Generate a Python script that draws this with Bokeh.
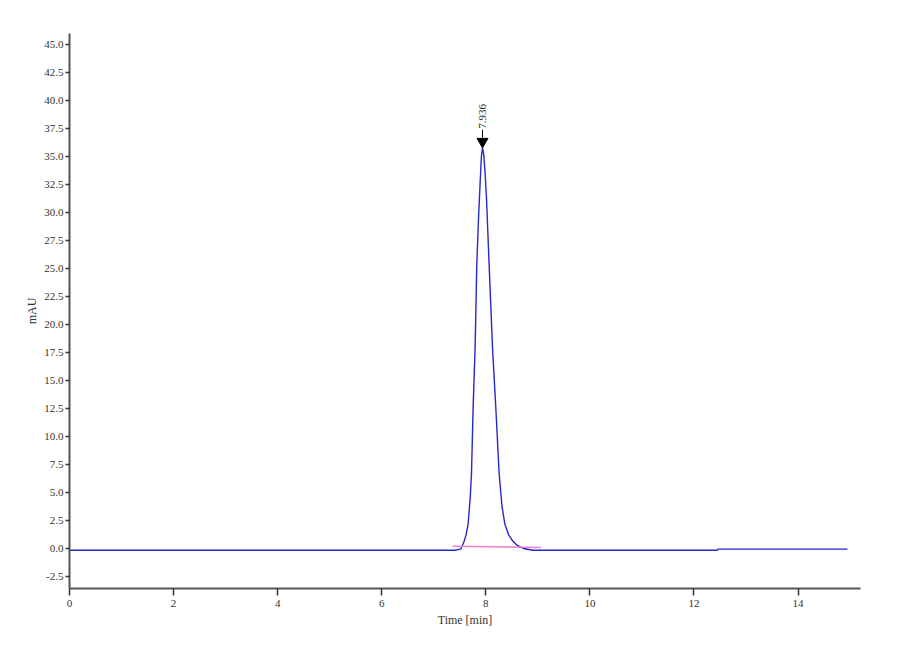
import numpy as np
from bokeh.plotting import figure
from bokeh.models import FixedTicker, PrintfTickFormatter, ColumnDataSource
from bokeh.core.properties import value
from bokeh.embed import file_html
from bokeh.resources import INLINE

# Chromatogram trace (time in min, signal in mAU)
time_min = [0.0, 7.40, 7.52, 7.58, 7.62, 7.66, 7.70, 7.725, 7.756, 7.794, 7.827,
            7.86, 7.89, 7.915, 7.936, 7.96, 7.985, 8.013, 8.063, 8.129, 8.192,
            8.256, 8.31, 8.365, 8.44, 8.513, 8.60, 8.73, 8.90, 12.45, 12.46, 14.95]
signal_mau = [-0.15, -0.15, -0.05, 0.6, 1.2, 2.2, 4.5, 6.7, 12.6, 17.9, 25.4,
              29.5, 32.6, 35.0, 35.8, 35.2, 33.6, 31.3, 25.4, 17.9, 12.6,
              6.7, 3.8, 2.2, 1.2, 0.7, 0.3, 0.0, -0.15, -0.15, -0.05, -0.05]

# Integration baseline (pink)
baseline_t = [7.36, 9.06]
baseline_v = [0.2, 0.1]

# Peak annotation
peak_time = [7.936]
peak_height = [35.8]
peak_label = ["7.936"]

x_ticks = [0, 2, 4, 6, 8, 10, 12, 14]
y_ticks = [-2.5, 0.0, 2.5, 5.0, 7.5, 10.0, 12.5, 15.0, 17.5, 20.0, 22.5, 25.0,
           27.5, 30.0, 32.5, 35.0, 37.5, 40.0, 42.5, 45.0]

FONT = "Liberation Serif"

p = figure(width=888, height=648, x_range=(0, 15.2), y_range=(-3.57, 46.0),
           output_backend="svg", toolbar_location=None,
           min_border_left=69, min_border_right=28, min_border_top=33,
           min_border_bottom=60)
p.outline_line_color = None
p.xgrid.visible = False
p.ygrid.visible = False

p.line(time_min, signal_mau, line_color="#2828C8", line_width=1.4)
p.line(baseline_t, baseline_v, line_color="#F080C8", line_width=1.5)

# peak marker: short stem, down-pointing triangle, rotated label
stem_src = ColumnDataSource(dict(x=peak_time, y0=[h + 0.9 for h in peak_height],
                                 y1=[h + 1.6 for h in peak_height], lab=peak_label,
                                 ym=[h + 0.55 for h in peak_height]))
p.segment(x0="x", y0="y0", x1="x", y1="y1", source=stem_src,
          line_color="black", line_width=1)
p.scatter(x="x", y="ym", source=stem_src, marker="inverted_triangle", size=11,
          fill_color="black", line_color="black")
p.text(x="x", y="y1", text="lab", source=stem_src, angle=np.pi / 2,
       text_align="left", text_baseline="middle", text_font=value(FONT),
       text_font_size="11px", text_color="#222222", y_offset=-1)

for ax in (p.xaxis[0], p.yaxis[0]):
    ax.axis_line_color = "#555555"
    ax.axis_line_width = 2
    ax.major_tick_line_color = "#333333"
    ax.major_tick_line_width = 1.5
    ax.major_tick_in = 0
    ax.minor_tick_line_color = None
    ax.major_label_text_font = FONT
    ax.major_label_text_font_size = "11px"
    ax.major_label_text_color = "#333333"
    ax.axis_label_text_font = FONT
    ax.axis_label_text_font_size = "12px"
    ax.axis_label_text_font_style = "normal"
    ax.axis_label_text_color = "#333333"

p.xaxis.ticker = FixedTicker(ticks=x_ticks)
p.xaxis.major_tick_out = 7
p.xaxis.major_label_standoff = 4
p.xaxis.axis_label = "Time [min]"
p.xaxis.axis_label_standoff = 3

p.yaxis.ticker = FixedTicker(ticks=y_ticks)
p.yaxis.formatter = PrintfTickFormatter(format="%.1f")
p.yaxis.major_tick_out = 4
p.yaxis.major_label_standoff = 2
p.yaxis.axis_label = "mAU"
p.yaxis.axis_label_standoff = 2

open("out.html", "w").write(file_html(p, INLINE))
